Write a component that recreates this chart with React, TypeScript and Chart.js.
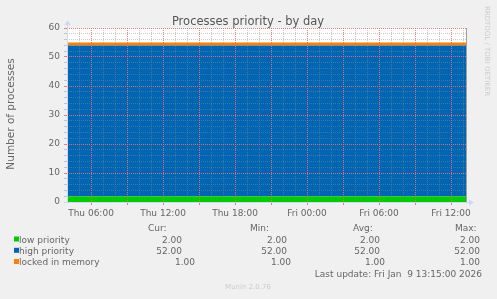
import { useEffect, useRef } from 'react';
import { Chart, registerables } from 'chart.js';

Chart.register(...registerables);

// Time in hours since Thu 00:00
const timeHours = [4, 10, 16, 22, 28, 34, 37.25];
const lowPriority = [2, 2, 2, 2, 2, 2, 2];
const highPriority = [52, 52, 52, 52, 52, 52, 52];
const lockedInMemory = [1, 1, 1, 1, 1, 1, 1];

const seriesNames = ['low priority', 'high priority', 'locked in memory'];
const seriesColors = ['#00CC00', '#0066B3', '#FF8000'];

const curValues = ['2.00', '52.00', '1.00'];
const minValues = ['2.00', '52.00', '1.00'];
const avgValues = ['2.00', '52.00', '1.00'];
const maxValues = ['2.00', '52.00', '1.00'];

const xTickHours = [6, 12, 18, 24, 30, 36];
const xTickLabels = ['Thu 06:00', 'Thu 12:00', 'Thu 18:00', 'Fri 00:00', 'Fri 06:00', 'Fri 12:00'];
const yTickValues = [0, 10, 20, 30, 40, 50, 60];

const titleText = 'Processes priority - by day';
const yTitleText = 'Number of processes';
const sideText = 'RRDTOOL / TOBI OETIKER';
const lastUpdateText = 'Last update: Fri Jan  9 13:15:00 2026';
const footerText = 'Munin 2.0.76';

const X_MIN = 4;
const X_MAX = 37.25;
const FONT = 'DejaVu Sans';
const TEXT = '#666666';
const AXIS = '#CFD6F8';
const MGRID = 'rgba(240,110,110,0.9)';
const GRID = 'rgba(140,140,140,0.45)';

const muninPlugin = {
  id: 'munin',
  beforeDraw(chart: any) {
    const { ctx, chartArea: a } = chart;
    ctx.save();
    ctx.fillStyle = '#F0F0F0';
    ctx.fillRect(0, 0, chart.width, chart.height);
    ctx.fillStyle = '#FFFFFF';
    ctx.fillRect(a.left, a.top, a.right - a.left, a.bottom - a.top);
    ctx.restore();
  },
  afterDraw(chart: any) {
    const { ctx, chartArea: a } = chart;
    ctx.save();
    // right frame line
    ctx.strokeStyle = '#A0A0A0';
    ctx.lineWidth = 1;
    ctx.beginPath();
    ctx.moveTo(Math.round(a.right) + 0.5, a.top);
    ctx.lineTo(Math.round(a.right) + 0.5, a.bottom);
    ctx.stroke();

    // axes
    ctx.strokeStyle = AXIS;
    ctx.fillStyle = AXIS;
    const ax = Math.round(a.left) + 0.5;
    const ay = Math.round(a.bottom) + 0.5;
    ctx.beginPath();
    ctx.moveTo(ax, a.bottom + 1);
    ctx.lineTo(ax, a.top - 6);
    ctx.moveTo(a.left - 3, ay);
    ctx.lineTo(a.right + 6, ay);
    ctx.stroke();
    ctx.beginPath();
    ctx.moveTo(ax - 3, a.top - 3);
    ctx.lineTo(ax + 3, a.top - 3);
    ctx.lineTo(ax, a.top - 8);
    ctx.closePath();
    ctx.fill();
    ctx.beginPath();
    ctx.moveTo(a.right + 3, ay - 3);
    ctx.lineTo(a.right + 3, ay + 3);
    ctx.lineTo(a.right + 8, ay);
    ctx.closePath();
    ctx.fill();

    // title
    ctx.fillStyle = '#555555';
    ctx.font = `11.5px "${FONT}"`;
    ctx.textAlign = 'center';
    ctx.textBaseline = 'alphabetic';
    ctx.fillText(titleText, 248, 25);

    // y title
    ctx.save();
    ctx.translate(14, 114);
    ctx.rotate(-Math.PI / 2);
    ctx.font = `10.5px "${FONT}"`;
    ctx.fillStyle = TEXT;
    ctx.textAlign = 'center';
    ctx.textBaseline = 'alphabetic';
    ctx.fillText(yTitleText, 0, 0);
    ctx.restore();

    // side text
    ctx.save();
    ctx.translate(485, 51);
    ctx.rotate(Math.PI / 2);
    ctx.font = `7px "${FONT}"`;
    ctx.fillStyle = '#CCCCCC';
    ctx.textAlign = 'center';
    ctx.textBaseline = 'alphabetic';
    ctx.fillText(sideText, 0, 0);
    ctx.restore();

    // legend
    ctx.font = `9px "${FONT}"`;
    ctx.fillStyle = TEXT;
    ctx.textBaseline = 'alphabetic';
    ctx.textAlign = 'left';
    const headY = 230.5;
    ctx.fillText('Cur:', 148, headY);
    ctx.fillText('Min:', 250, headY);
    ctx.fillText('Avg:', 353, headY);
    ctx.fillText('Max:', 455, headY);
    const rowY = [242.5, 253.8, 265];
    const curR = [182, 182, 195];
    const minR = [287, 287, 291];
    const avgR = [380, 380, 385];
    const maxR = [480, 480, 480];
    seriesNames.forEach((name, i) => {
      const y = rowY[i];
      ctx.fillStyle = seriesColors[i];
      ctx.fillRect(14, y - 6, 5, 5);
      ctx.fillStyle = TEXT;
      ctx.textAlign = 'left';
      ctx.fillText(name, 19, y);
      ctx.textAlign = 'right';
      ctx.fillText(curValues[i], curR[i], y);
      ctx.fillText(minValues[i], minR[i], y);
      ctx.fillText(avgValues[i], avgR[i], y);
      ctx.fillText(maxValues[i], maxR[i], y);
    });
    ctx.textAlign = 'right';
    ctx.fillText(lastUpdateText, 482, 277);

    ctx.font = `7px "${FONT}"`;
    ctx.fillStyle = '#CCCCCC';
    ctx.textAlign = 'center';
    ctx.fillText(footerText, 248, 289);
    ctx.restore();
  },
};

export default function App() {
  const ref = useRef<HTMLCanvasElement | null>(null);
  useEffect(() => {
    if (!ref.current) return;
    const mk = (vals: number[]) => timeHours.map((x, i) => ({ x, y: vals[i] }));
    const chart = new Chart(ref.current, {
      type: 'line',
      data: {
        datasets: [
          { label: seriesNames[0], data: mk(lowPriority), backgroundColor: seriesColors[0], borderColor: seriesColors[0], borderWidth: 0, pointRadius: 0, fill: 'origin', tension: 0 },
          { label: seriesNames[1], data: mk(highPriority), backgroundColor: seriesColors[1], borderColor: seriesColors[1], borderWidth: 0, pointRadius: 0, fill: '-1', tension: 0 },
          { label: seriesNames[2], data: mk(lockedInMemory), backgroundColor: seriesColors[2], borderColor: seriesColors[2], borderWidth: 0, pointRadius: 0, fill: '-1', tension: 0 },
        ],
      },
      options: {
        responsive: false,
        animation: false,
        events: [],
        devicePixelRatio: 1,
        layout: { padding: { left: 0, top: 28, right: 31, bottom: 0 } },
        plugins: { legend: { display: false }, title: { display: false }, tooltip: { enabled: false } },
        scales: {
          x: {
            type: 'linear',
            min: X_MIN,
            max: X_MAX,
            afterBuildTicks: (s: any) => {
              const t = [];
              for (let h = Math.ceil(X_MIN); h <= Math.floor(X_MAX); h++) t.push({ value: h });
              s.ticks = t;
            },
            afterFit: (s: any) => { s.height = 97; },
            grid: {
              z: 1,
              lineWidth: 1,
              color: (c: any) => (c.tick && c.tick.value % 3 === 0 ? MGRID : GRID),
              tickColor: (c: any) => (c.tick && c.tick.value % 3 === 0 ? MGRID : 'rgba(0,0,0,0)'),
              tickLength: 3,
            },
            border: { display: false, dash: [1, 1] },
            ticks: {
              autoSkip: false,
              maxRotation: 0,
              minRotation: 0,
              padding: 3,
              color: TEXT,
              font: { family: FONT, size: 9 },
              callback: (v: any) => {
                const i = xTickHours.indexOf(Number(v));
                return i >= 0 ? xTickLabels[i] : '';
              },
            },
          },
          y: {
            stacked: true,
            min: 0,
            max: 60,
            afterBuildTicks: (s: any) => {
              const t = [];
              for (let v = 0; v <= 60; v += 2) t.push({ value: v });
              s.ticks = t;
            },
            afterFit: (s: any) => { s.width = 67; },
            grid: {
              z: 1,
              lineWidth: 1,
              color: (c: any) => (c.tick && c.tick.value % 10 === 0 ? MGRID : GRID),
              tickColor: (c: any) => (c.tick && c.tick.value % 10 === 0 ? MGRID : GRID),
              tickLength: 3,
            },
            border: { display: false, dash: [1, 1] },
            ticks: {
              autoSkip: false,
              padding: 4,
              color: TEXT,
              font: { family: FONT, size: 9 },
              callback: (v: any) => (yTickValues.indexOf(Number(v)) >= 0 ? String(v) : ''),
            },
          },
        },
      },
      plugins: [muninPlugin],
    } as any);
    return () => chart.destroy();
  }, []);
  return (
    <canvas
      ref={ref}
      width={497}
      height={299}
      style={{ position: 'fixed', left: 0, top: 0, width: 497, height: 299 }}
    />
  );
}
